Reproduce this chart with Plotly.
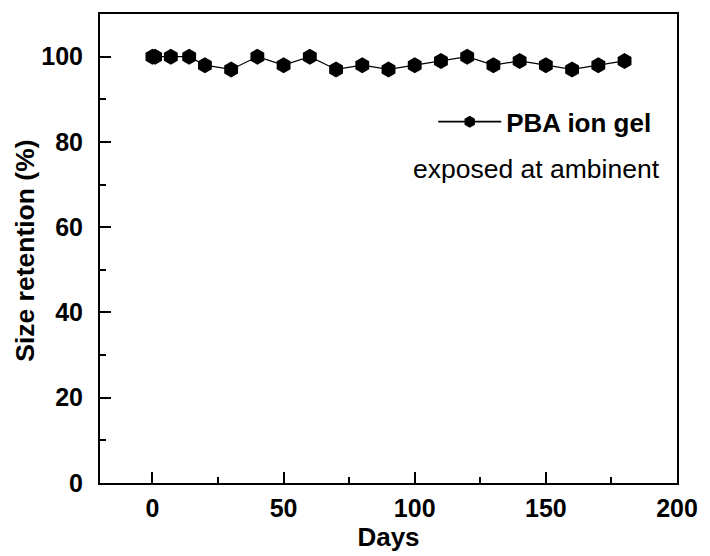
import plotly.graph_objects as go

days = [0, 1, 7, 14, 20, 30, 40, 50, 60, 70, 80, 90, 100, 110, 120, 130, 140, 150, 160, 170, 180]
retention = [100, 100, 100, 100, 98, 97, 100, 98, 100, 97, 98, 97, 98, 99, 100, 98, 99, 98, 97, 98, 99]

x_ticks = [0, 50, 100, 150, 200]
y_ticks = [0, 20, 40, 60, 80, 100]

FONT = "Liberation Sans, Arial, sans-serif"

W, H = 710, 556
L, R, T, B = 100, 23, 13, 73
pw, ph = W - L - R, H - T - B

fig = go.Figure()
fig.add_trace(go.Scatter(
    x=days, y=retention, mode="lines+markers",
    name="PBA ion gel", showlegend=False,
    line=dict(color="black", width=1.2),
    marker=dict(symbol="hexagon", size=16, color="black", line=dict(width=0)),
))
# legend entry only (no data)
fig.add_trace(go.Scatter(
    x=[None], y=[None], mode="lines+markers",
    name="<b>PBA ion gel</b>", showlegend=True,
    line=dict(color="black", width=1.6),
    marker=dict(symbol="hexagon", size=12, color="black", line=dict(width=0)),
))

axis_common = dict(
    showline=True, linecolor="black", linewidth=2, mirror=True,
    ticks="inside", ticklen=11, tickwidth=2, tickcolor="black",
    showgrid=False, zeroline=False,
    tickfont=dict(family=FONT, size=25, color="black", weight="bold"),
)

fig.update_xaxes(
    range=[-20, 200], tickvals=x_ticks, ticklabelstandoff=2,
    title=dict(text="<b>Days</b>", font=dict(family=FONT, size=26, color="black"), standoff=2),
    minor=dict(ticks="inside", ticklen=6, tickwidth=2, tickcolor="black", dtick=25, tick0=0),
    **axis_common,
)
fig.update_yaxes(
    range=[0, 110], tickvals=y_ticks, ticklabelstandoff=10,
    minor=dict(ticks="inside", ticklen=6, tickwidth=2, tickcolor="black", dtick=10, tick0=0),
    **axis_common,
)

# y-axis title as rotated annotation for exact placement
fig.add_annotation(
    x=(24 - L) / pw, y=(H - B - 250) / ph, xref="paper", yref="paper",
    xanchor="center", yanchor="middle", textangle=-90,
    text="<b>Size retention (%)</b>", showarrow=False,
    font=dict(family=FONT, size=26.5, color="black"),
)

fig.add_annotation(
    x=(544 - L) / pw, y=(H - B - 168) / ph, xref="paper", yref="paper",
    xanchor="center", yanchor="middle",
    text="exposed at ambinent", showarrow=False,
    font=dict(family=FONT, size=26.5, color="black"),
)

fig.update_layout(
    width=W, height=H,
    margin=dict(l=L, r=R, t=T, b=B),
    paper_bgcolor="white", plot_bgcolor="white",
    font=dict(family=FONT, color="black"),
    showlegend=True,
    legend=dict(
        x=(439 - L) / pw, y=(H - B - 121) / ph, xanchor="left", yanchor="middle",
        bgcolor="rgba(0,0,0,0)", itemwidth=63,
        font=dict(family=FONT, size=26, color="black"),
    ),
)

fig.write_html("out.html")
